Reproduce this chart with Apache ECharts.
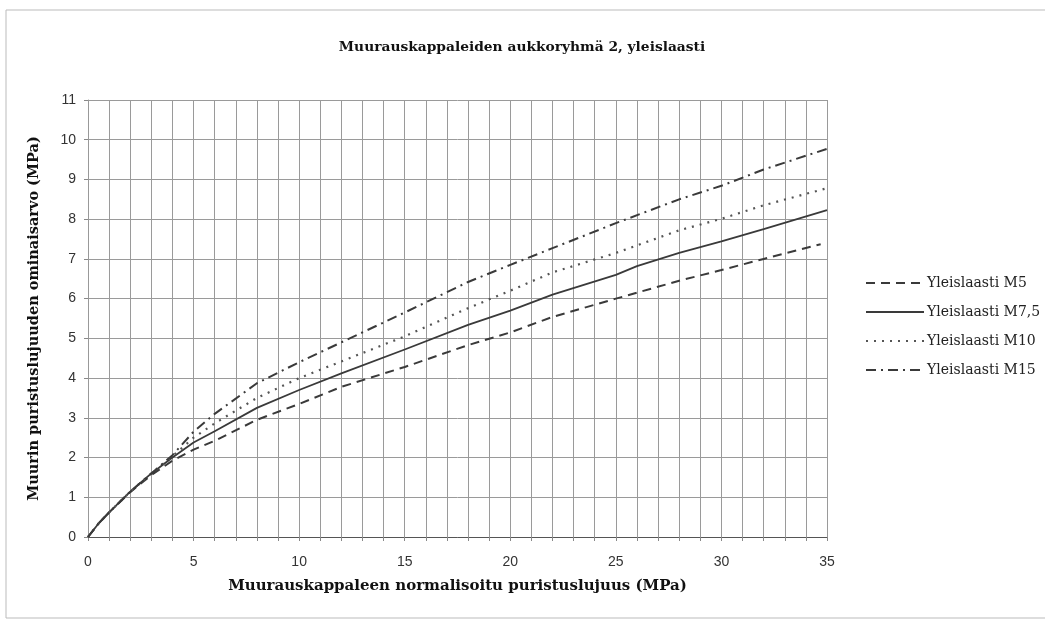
<!DOCTYPE html>
<html>
<head>
<meta charset="utf-8">
<script src="https://cdn.jsdelivr.net/npm/echarts@6/dist/echarts.min.js"></script>
<style>html,body{margin:0;padding:0;background:#fff;}#c{width:1045px;height:623px;}</style>
</head>
<body>
<div id="c"></div>
<script>
const titleText = 'Muurauskappaleiden aukkoryhmä 2, yleislaasti';
const xName = 'Muurauskappaleen normalisoitu puristuslujuus (MPa)';
const yName = 'Muurin puristuslujuuden ominaisarvo (MPa)';
const seriesNames = ['Yleislaasti M5', 'Yleislaasti M7,5', 'Yleislaasti M10', 'Yleislaasti M15'];

const m5X  = [0, 0.5, 1, 2, 3, 4, 5, 6, 8, 10, 12, 15, 18, 20, 22, 25, 28, 30, 32, 34.7];
const m5Y  = [0, 0.34, 0.62, 1.13, 1.56, 1.92, 2.2, 2.42, 2.95, 3.35, 3.78, 4.28, 4.83, 5.15, 5.54, 6.0, 6.45, 6.72, 7.0, 7.37];

const m75X = [0, 0.5, 1, 2, 3, 4, 5, 6, 8, 10, 12, 15, 18, 20, 22, 25, 26, 28, 30, 32, 35];
const m75Y = [0, 0.34, 0.62, 1.14, 1.6, 2.0, 2.38, 2.66, 3.25, 3.7, 4.12, 4.72, 5.34, 5.7, 6.1, 6.6, 6.82, 7.15, 7.44, 7.75, 8.23];

const m10X = [0, 0.5, 1, 2, 3, 4, 5, 6, 8, 10, 12, 15, 18, 20, 22, 25, 28, 30, 32, 35];
const m10Y = [0, 0.34, 0.62, 1.14, 1.6, 2.03, 2.5, 2.86, 3.5, 4.0, 4.42, 5.05, 5.76, 6.2, 6.66, 7.15, 7.72, 8.01, 8.35, 8.78];

const m15X = [0, 0.5, 1, 2, 3, 4, 5, 6, 8, 10, 12, 15, 18, 20, 22, 25, 28, 30, 32, 35];
const m15Y = [0, 0.34, 0.62, 1.14, 1.6, 2.06, 2.65, 3.1, 3.87, 4.4, 4.9, 5.65, 6.42, 6.85, 7.27, 7.9, 8.5, 8.84, 9.25, 9.77];

const xTickLabels = ['0', '5', '10', '15', '20', '25', '30', '35'];

function pairs(xs, ys) { return xs.map((x, i) => [x, ys[i]]); }

const chart = echarts.init(document.getElementById('c'), null, {renderer: 'canvas'});
const lineColor = '#3a3a3a';
const serif = '"DejaVu Serif", "Liberation Serif", serif';
const sans = '"Liberation Sans", Arial, sans-serif';

chart.setOption({
  backgroundColor: '#fff',
  animation: false,
  title: {
    text: titleText,
    left: 517, top: 35, textAlign: 'center',
    textStyle: {fontFamily: serif, fontWeight: 'bold', fontSize: 13.8, color: '#111'}
  },
  graphic: [{
    type: 'rect', shape: {x: 6, y: 10, width: 1050, height: 608},
    style: {fill: 'none', stroke: '#bbb', lineWidth: 1}, silent: true
  }],
  legend: {
    orient: 'vertical', left: 860, top: 271,
    itemWidth: 58, itemHeight: 12, itemGap: 15,
    itemStyle: {color: 'rgba(0,0,0,0)', borderWidth: 0},
    textStyle: {fontFamily: serif, fontSize: 14, color: '#222', padding: [0, 0, 0, -2]},
    data: seriesNames
  },
  grid: {left: 88, right: 218, top: 100, bottom: 86, containLabel: false},
  xAxis: {
    type: 'value', min: 0, max: 35, interval: 1,
    name: xName, nameLocation: 'middle', nameGap: 42,
    nameTextStyle: {fontFamily: serif, fontWeight: 'bold', fontSize: 15, color: '#111'},
    axisLine: {lineStyle: {color: '#555', width: 1}},
    axisTick: {show: true, length: 4, lineStyle: {color: '#888'}},
    axisLabel: {
      fontFamily: sans, fontSize: 14, color: '#333', margin: 18,
      formatter: v => (v % 5 === 0 ? xTickLabels[v / 5] : '')
    },
    splitLine: {show: true, lineStyle: {color: '#9a9a9a', width: 1}}
  },
  yAxis: {
    type: 'value', min: 0, max: 11, interval: 1,
    name: yName, nameLocation: 'middle', nameGap: 46, nameRotate: 90,
    nameTextStyle: {fontFamily: serif, fontWeight: 'bold', fontSize: 14.5, color: '#111'},
    axisLine: {show: true, lineStyle: {color: '#999', width: 1}},
    axisTick: {show: true, length: 4, lineStyle: {color: '#888'}},
    axisLabel: {fontFamily: sans, fontSize: 14, color: '#333', margin: 12},
    splitLine: {show: true, lineStyle: {color: '#9a9a9a', width: 1}}
  },
  series: [
    {name: seriesNames[0], type: 'line', symbol: 'none', data: pairs(m5X, m5Y),
     lineStyle: {color: lineColor, width: 2, type: [9, 6]}, itemStyle: {color: lineColor}},
    {name: seriesNames[1], type: 'line', symbol: 'none', data: pairs(m75X, m75Y),
     lineStyle: {color: lineColor, width: 1.8, type: 'solid'}, itemStyle: {color: lineColor}},
    {name: seriesNames[2], type: 'line', symbol: 'none', data: pairs(m10X, m10Y),
     lineStyle: {color: '#555', width: 2.2, type: [2, 6]}, itemStyle: {color: '#555'}},
    {name: seriesNames[3], type: 'line', symbol: 'none', data: pairs(m15X, m15Y),
     lineStyle: {color: lineColor, width: 2, type: [10, 5, 2, 5]}, itemStyle: {color: lineColor}}
  ]
});
</script>
</body>
</html>
